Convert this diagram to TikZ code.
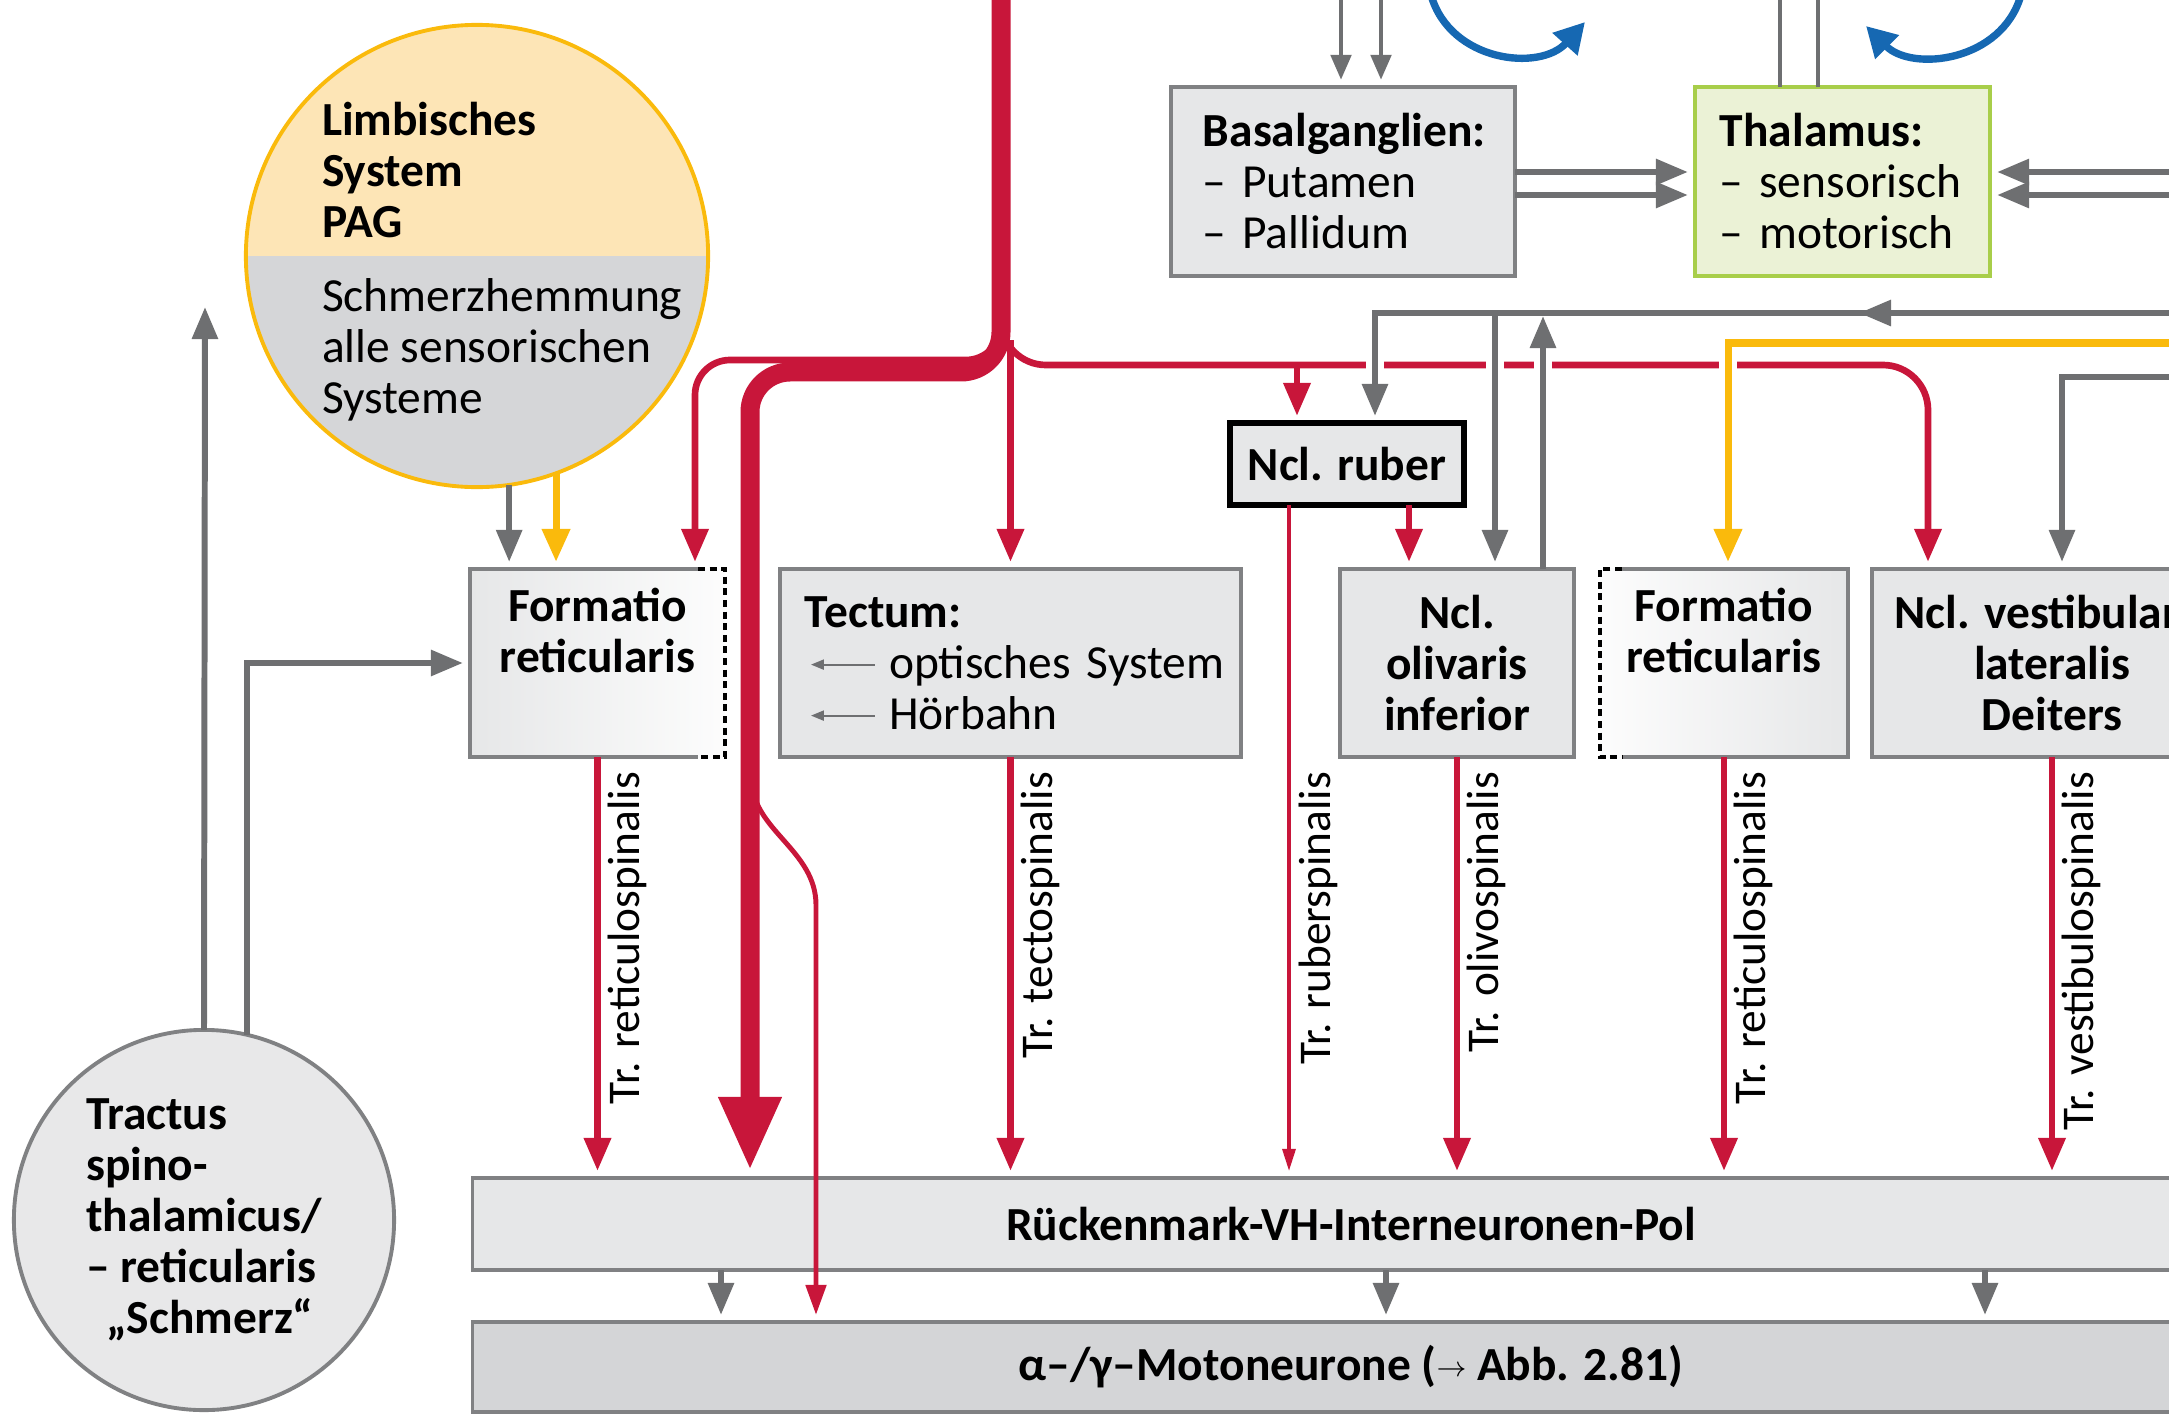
\documentclass[tikz,border=0pt]{standalone}
\usepackage{fontspec}
\setmainfont{Carlito}
\usetikzlibrary{arrows.meta}

\definecolor{tractred}{RGB}{200,22,58}
\definecolor{fibregray}{RGB}{110,111,113}
\definecolor{limbyellow}{RGB}{250,186,12}
\definecolor{loopblue}{RGB}{22,104,178}
\definecolor{boxgray}{RGB}{230,231,232}
\definecolor{edgegray}{RGB}{128,129,131}
\definecolor{motogray}{RGB}{212,213,215}
\definecolor{limborange}{RGB}{253,229,182}
\definecolor{limbgray}{RGB}{213,214,216}
\definecolor{spinegray}{RGB}{232,232,233}
\definecolor{thalgreen}{RGB}{235,242,214}
\definecolor{thaledge}{RGB}{168,206,74}

\newcommand{\inarrow}{\hspace*{0.22cm}\tikz[baseline=-0.6ex]\draw[fibregray, line width=0.6pt,
    -{Triangle[length=0.13cm, width=0.1cm]}] (0.64cm,0) -- (0,0);\hspace{0.13cm}}

\begin{document}
\begin{tikzpicture}[x=0.01cm, y=-0.01cm,
        every node/.style={font=\fontsize{13.5}{14.5}\selectfont, inner sep=0pt, outer sep=0pt},
        boldtext/.style={font=\fontsize{13.5}{14.5}\selectfont\bfseries},
        box/.style={draw=edgegray, fill=boxgray, line width=1pt, minimum height=1.88cm, align=center},
        redarr/.style={draw=tractred, line width=1.9pt, -{Triangle[length=0.33cm, width=0.26cm]}, shorten >=2pt},
        thinred/.style={draw=tractred, line width=0.9pt, -{Triangle[length=0.22cm, width=0.13cm]}, shorten >=2pt},
        grayarr/.style={draw=fibregray, line width=1.7pt, -{Triangle[length=0.32cm, width=0.25cm]}, shorten >=2pt},
        smallgray/.style={draw=fibregray, line width=1.4pt, -{Triangle[length=0.25cm, width=0.2cm]}, shorten >=2pt},
        grayline/.style={draw=fibregray, line width=1.4pt},
        yelarr/.style={draw=limbyellow, line width=2pt, -{Triangle[length=0.33cm, width=0.27cm]}, shorten >=2pt},
        gapline/.style={draw=white, line width=5.2pt},
        blueloop/.style={draw=loopblue, line width=2.1pt, -{Triangle[length=0.3cm, width=0.32cm]}},
        tract/.style={xshift=0.1cm, yshift=-0.15cm, rotate=90, anchor=north east,
                      font=\fontsize{12.9}{13}\selectfont},
        dashedge/.style={draw=black, line width=1pt, dash pattern=on 2pt off 1.3pt}
    ]
    \useasboundingbox (0,0) rectangle (2169,1415);
    \clip (0,0) rectangle (2169,1415);

    % Limbisches System und Tractus spinothalamicus
    \node[circle, minimum size=4.62cm, fill=limborange, draw=limbyellow, line width=1.1pt,
          path picture={\fill[limbgray] (path picture bounding box.west)
                        rectangle (path picture bounding box.south east);}]
        (lim) at (477,256) {};
    \node[anchor=west, align=left] (limtxt) at (322,262)
        {\textbf{Limbisches}\\\textbf{System}\\\textbf{PAG}\\[0.23cm]Schmerzhemmung\\alle sensorischen\\Systeme};
    \node[circle, minimum size=3.8cm, fill=spinegray, draw=edgegray, line width=1.1pt,
          align=left, boldtext] (tr) at (204,1220)
        {Tractus\\spino-\\thalamicus/\\– reticularis\\\hspace*{0.2cm}„Schmerz“};

    % Kerngebiete oben
    \node[box, minimum width=3.44cm, minimum height=1.89cm, text width=2.8cm,
          inner xsep=0.32cm, align=left] (bas) at (1343,181.5)
        {\textbf{Basalganglien:}\\– Putamen\\– Pallidum};
    \node[box, draw=thaledge, fill=thalgreen, line width=1.3pt, minimum width=2.95cm,
          minimum height=1.89cm, text width=2.45cm, inner xsep=0.25cm, align=left] (thal) at (1842.5,181.5)
        {\textbf{Thalamus:}\\– sensorisch\\– motorisch};
    \node[box, draw=black, line width=1.6pt, minimum width=2.34cm, minimum height=0.82cm,
          boldtext] (rub) at (1347,464) {Ncl. ruber};

    % Kerngebiete Hirnstamm
    \node[box, draw=none, left color=boxgray, right color=white!90!boxgray,
          minimum width=2.55cm, boldtext] (fl) at (597.5,663) {Formatio\\reticularis\\\strut};
    \node[box, minimum width=4.61cm, text width=4.45cm, inner xsep=0.08cm, align=left] (tec) at (1010.5,663)
        {\hspace*{0.17cm}\textbf{Tectum:}\\\inarrow optisches System\\\inarrow Hörbahn};
    \node[box, minimum width=2.34cm, boldtext] (ol) at (1457,663) {Ncl.\\olivaris\\inferior};
    \node[box, draw=none, left color=white!90!boxgray, right color=boxgray,
          minimum width=2.48cm, boldtext] (fr) at (1724,663) {Formatio\\reticularis\\\strut};
    \node[box, minimum width=3.6cm, boldtext] (ves) at (2052,663) {Ncl. vestibularis\\lateralis\\Deiters};

    \draw[edgegray, line width=1pt] ([xshift=-0.27cm]fl.north east) -- (fl.north west)
        -- (fl.south west) -- ([xshift=-0.27cm]fl.south east);
    \draw[dashedge] ([xshift=-0.27cm]fl.north east) -- (fl.north east)
        -- (fl.south east) -- ([xshift=-0.27cm]fl.south east);
    \draw[edgegray, line width=1pt] ([xshift=0.22cm]fr.north west) -- (fr.north east)
        -- (fr.south east) -- ([xshift=0.22cm]fr.south west);
    \draw[dashedge] ([xshift=0.22cm]fr.north west) -- (fr.north west)
        -- (fr.south west) -- ([xshift=0.22cm]fr.south west);

    % Rueckenmark
    \node[box, minimum width=17.56cm, minimum height=0.92cm, boldtext] (rm) at (1351,1224)
        {Rückenmark-VH-Interneuronen-Pol};
    \node[box, fill=motogray, minimum width=17.56cm, minimum height=0.9cm, boldtext] (mot) at (1351,1367)
        {α–/γ–Motoneurone ({\mdseries\footnotesize\raisebox{0.35ex}{$\rightarrow$}} Abb. 2.81)};

    % rote Bahnen
    \draw[tractred, line width=5.4pt, rounded corners=0.4cm,
          -{Triangle[length=0.74cm, width=0.58cm]}, shorten >=2pt]
        (1001,-10) |- (750,372) -- (750,0 |- rm.north);
    \draw[redarr, rounded corners=0.35cm] (1001,300) |- (695,360) -- (695,0 |- fl.north);
    \draw[redarr] (tec.north |- 0,340) -- (tec.north);
    \draw[redarr, rounded corners=0.45cm] (1001,300) |- (1928,365) -- (1928,0 |- ves.north);
    \draw[redarr] (1297,365) -- (1297,0 |- rub.north);
    \draw[redarr] (1409,0 |- rub.south) -- (1409,0 |- ol.north);
    \draw[thinred] (1289,0 |- rub.south) -- (1289,0 |- rm.north);
    \draw[redarr, line width=1.4pt, -{Triangle[length=0.3cm, width=0.2cm]}]
        (752,780) .. controls (752,830) and (816,850) .. (816,905) -- (816,0 |- mot.north);
    \foreach \n in {fl, tec, ol, fr, ves}
        \draw[redarr] (\n.south) -- (\n.south |- rm.north);

    \node[tract] (lfl) at (fl.south) {Tr. reticulospinalis};
    \node[tract] (ltec) at (tec.south) {Tr. tectospinalis};
    \node[tract] (lrub) at (1289,0 |- ol.south) {Tr. ruberspinalis};
    \node[tract] (lol) at (ol.south) {Tr. olivospinalis};
    \node[tract] (lfr) at (fr.south) {Tr. reticulospinalis};
    \node[tract] (lves) at (ves.south) {Tr. vestibulospinalis};

    % graue und gelbe Bahnen
    \foreach \gx in {1375, 1495, 1543, 1728}
        \draw[gapline] (\gx,347) -- (\gx,383);
    \draw[grayarr] (2180,313) -- (1375,313) -- (1375,0 |- rub.north);
    \draw[grayarr] (2180,313) -- (1852,313);
    \draw[grayarr] (1495,313) -- (1495,0 |- ol.north);
    \draw[grayarr, shorten >=0pt] (1543,0 |- ol.north) -- (1543,316);
    \draw[yelarr] (2180,343) -- (1728,343) -- (1728,0 |- fr.north);
    \draw[grayarr] (2180,377) -- (2062,377) -- (2062,0 |- ves.north);

    \draw[grayarr] (lim.-82) -- (lim.-82 |- fl.north);
    \draw[yelarr] (lim.-70) -- (lim.-70 |- fl.north);
    \coordinate (spinup) at (205,307);
    \draw[grayarr, shorten >=0pt] (tr.north) -- (spinup);
    \draw[grayarr] (tr.77) |- (fl.west);

    \foreach \gx in {721, 1386, 1985}
        \draw[grayarr] (\gx,0 |- rm.south) -- (\gx,0 |- mot.north);

    % Basalganglien, Thalamus
    \draw[smallgray] (1341,-5) -- (1341,0 |- bas.north);
    \draw[smallgray] (1381,-5) -- (1381,0 |- bas.north);
    \draw[grayline] (1780,-5) -- (1780,0 |- thal.north);
    \draw[grayline] (1818,-5) -- (1818,0 |- thal.north);
    \foreach \gy in {172, 195} {
        \draw[grayarr] (bas.east |- 0,\gy) -- (thal.west |- 0,\gy);
        \draw[grayarr] (2180,\gy) -- (thal.east |- 0,\gy);
    }
    \draw[blueloop] (1431,-5) .. controls (1450,62) and (1540,72) .. (1585,22);
    \draw[blueloop] (2021,-5) .. controls (2002,62) and (1912,72) .. (1866,26);
\end{tikzpicture}
\end{document}
